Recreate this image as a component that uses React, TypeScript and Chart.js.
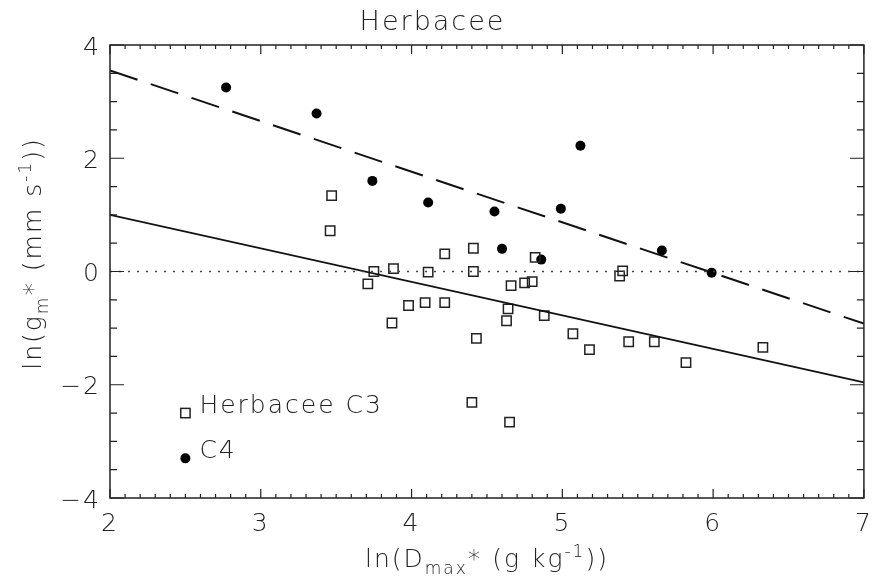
import React, { useEffect, useRef } from 'react';
import { Chart, registerables } from 'chart.js';

Chart.register(...registerables);

// ---- data ----
const chartTitle = 'Herbacee';
const c3Label = 'Herbacee C3';
const c4Label = 'C4';

const c3X = [3.47, 3.46, 3.75, 3.71, 3.88, 4.11, 4.22, 4.41, 4.41, 4.66, 4.75, 4.80, 4.82, 3.98, 4.09, 4.22, 3.87, 4.43, 4.64, 4.63, 4.88, 5.07, 5.18, 4.40, 4.65, 5.40, 5.38, 5.44, 5.61, 5.82, 6.33];
const c3Y = [1.34, 0.72, 0.00, -0.22, 0.05, -0.01, 0.31, 0.41, 0.00, -0.25, -0.20, -0.18, 0.25, -0.60, -0.55, -0.55, -0.91, -1.18, -0.66, -0.87, -0.78, -1.10, -1.38, -2.31, -2.66, 0.01, -0.08, -1.24, -1.24, -1.61, -1.34];

const c4X = [2.77, 3.37, 3.74, 4.11, 4.55, 4.99, 4.60, 4.86, 5.12, 5.66, 5.99];
const c4Y = [3.25, 2.79, 1.60, 1.22, 1.06, 1.11, 0.40, 0.21, 2.22, 0.37, -0.02];

const fitX = [2, 7];
const c3FitY = [1.0, -1.96];
const c4FitY = [3.55, -0.92];
const zeroY = [0, 0];

const xRange = [2, 7];
const yRange = [-4, 4];
const xStep = 1;
const yStep = 2;
const xMinor = 0.1;
const yMinor = 0.5;

type Part = { t: string; s?: 'sub' | 'sup' };
const xTitleParts: Part[] = [{ t: 'ln(D' }, { t: 'max', s: 'sub' }, { t: '* (g kg' }, { t: '-1', s: 'sup' }, { t: '))' }];
const yTitleParts: Part[] = [{ t: 'ln(g' }, { t: 'm', s: 'sub' }, { t: '* (mm s' }, { t: '-1', s: 'sup' }, { t: '))' }];

// ---- styling ----
const FAMILY = '"DejaVu Sans", sans-serif';
const WEIGHT = '200';
const INK = '#222';
const FS = 25;
const SPACING = '2px';

const pts = (xs: number[], ys: number[]) => xs.map((x, i) => ({ x, y: ys[i] }));

function partFont(p: Part, size: number) {
  const s = p.s ? size * 0.68 : size;
  return `${WEIGHT} ${s}px ${FAMILY}`;
}
function richWidth(ctx: CanvasRenderingContext2D, parts: Part[], size: number) {
  let w = 0;
  for (const p of parts) {
    ctx.font = partFont(p, size);
    w += ctx.measureText(p.t).width;
  }
  return w;
}
function drawRich(ctx: CanvasRenderingContext2D, parts: Part[], size: number, x0: number, base: number) {
  let x = x0;
  for (const p of parts) {
    ctx.font = partFont(p, size);
    const dy = p.s === 'sub' ? size * 0.28 : p.s === 'sup' ? -size * 0.42 : 0;
    ctx.fillText(p.t, x, base + dy);
    x += ctx.measureText(p.t).width;
  }
}

const idlPlugin = {
  id: 'idlFrame',
  beforeUpdate(chart: any) {
    (chart.ctx as any).letterSpacing = SPACING;
  },
  afterDatasetsDraw(chart: any) {
    const { ctx, chartArea: a, scales } = chart;
    const xs = scales.x;
    const ys = scales.y;
    ctx.save();
    (ctx as any).letterSpacing = SPACING;
    // frame
    ctx.strokeStyle = INK;
    ctx.lineWidth = 1.5;
    ctx.strokeRect(a.left, a.top, a.right - a.left, a.bottom - a.top);
    // ticks (inside, on all four sides)
    ctx.lineWidth = 1.2;
    ctx.beginPath();
    const nx = Math.round((xs.max - xs.min) / xMinor);
    const perX = Math.round(xStep / xMinor);
    for (let i = 0; i <= nx; i++) {
      const px = xs.getPixelForValue(xs.min + i * xMinor);
      const len = i % perX === 0 ? 9 : 4;
      ctx.moveTo(px, a.bottom);
      ctx.lineTo(px, a.bottom - len);
      ctx.moveTo(px, a.top);
      ctx.lineTo(px, a.top + len);
    }
    const ny = Math.round((ys.max - ys.min) / yMinor);
    const perY = Math.round(yStep / yMinor);
    for (let i = 0; i <= ny; i++) {
      const py = ys.getPixelForValue(ys.min + i * yMinor);
      const len = i % perY === 0 ? 14 : 7;
      ctx.moveTo(a.left, py);
      ctx.lineTo(a.left + len, py);
      ctx.moveTo(a.right, py);
      ctx.lineTo(a.right - len, py);
    }
    ctx.stroke();

    // legend (anchored in data coordinates, as in the original)
    ctx.fillStyle = INK;
    ctx.textBaseline = 'alphabetic';
    ctx.textAlign = 'left';
    const entries = chart.data.datasets.filter((d: any) => d.inLegend);
    const anchorsY = [-2.5, -3.3];
    entries.forEach((d: any, i: number) => {
      const sx = xs.getPixelForValue(2.5);
      const sy = ys.getPixelForValue(anchorsY[i]);
      ctx.save();
      if (d.pointStyle === 'rect') {
        const h = d.pointRadius * Math.SQRT1_2;
        ctx.strokeStyle = d.pointBorderColor;
        ctx.lineWidth = d.pointBorderWidth;
        ctx.strokeRect(sx - h, sy - h, 2 * h, 2 * h);
      } else {
        ctx.fillStyle = d.pointBackgroundColor;
        ctx.beginPath();
        ctx.arc(sx, sy, d.pointRadius, 0, Math.PI * 2);
        ctx.fill();
      }
      ctx.restore();
      ctx.font = `${WEIGHT} ${FS}px ${FAMILY}`;
      ctx.fillText(d.label, sx + 14, sy);
    });

    // axis titles
    ctx.fillStyle = INK;
    const wx = richWidth(ctx, xTitleParts, FS);
    drawRich(ctx, xTitleParts, FS, (a.left + a.right) / 2 - wx / 2, 567);
    const wy = richWidth(ctx, yTitleParts, FS);
    ctx.save();
    ctx.translate(41, (a.top + a.bottom) / 2 - 18);
    ctx.rotate(-Math.PI / 2);
    drawRich(ctx, yTitleParts, FS, -wy / 2, 0);
    ctx.restore();
    ctx.restore();
  },
};

export default function App() {
  const ref = useRef<HTMLCanvasElement>(null);
  useEffect(() => {
    const tickFont = { family: FAMILY, size: FS, weight: WEIGHT as any };
    const chart = new Chart(ref.current as HTMLCanvasElement, {
      type: 'scatter',
      data: {
        datasets: [
          {
            label: 'zero',
            data: pts(fitX, zeroY),
            showLine: true,
            borderColor: '#444',
            borderWidth: 1.4,
            borderDash: [2, 7],
            pointRadius: 0,
          },
          {
            label: 'fit C3',
            data: pts(fitX, c3FitY),
            showLine: true,
            borderColor: '#111',
            borderWidth: 1.8,
            pointRadius: 0,
          },
          {
            label: 'fit C4',
            data: pts(fitX, c4FitY),
            showLine: true,
            borderColor: '#111',
            borderWidth: 2,
            borderDash: [29, 14],
            pointRadius: 0,
          },
          {
            label: c3Label,
            data: pts(c3X, c3Y),
            inLegend: true,
            pointStyle: 'rect',
            pointRadius: 6.6,
            pointBorderWidth: 1.5,
            pointBorderColor: '#222',
            pointBackgroundColor: 'rgba(0,0,0,0)',
          } as any,
          {
            label: c4Label,
            data: pts(c4X, c4Y),
            inLegend: true,
            pointStyle: 'circle',
            pointRadius: 5,
            pointBorderWidth: 0,
            pointBorderColor: '#000',
            pointBackgroundColor: '#000',
          } as any,
        ],
      },
      options: {
        animation: false,
        responsive: false,
        devicePixelRatio: 1,
        layout: { padding: { left: 0, right: 7, top: 0, bottom: 0 } },
        plugins: {
          legend: { display: false },
          tooltip: { enabled: false },
          title: {
            display: true,
            text: chartTitle,
            color: INK,
            font: { family: FAMILY, size: 27, weight: WEIGHT as any, lineHeight: 1.2 },
            padding: { top: 7, bottom: 5.6 },
          },
        },
        scales: {
          x: {
            type: 'linear',
            min: xRange[0],
            max: xRange[1],
            grid: { display: false, drawTicks: false },
            border: { display: false },
            ticks: { stepSize: xStep, color: INK, font: tickFont, padding: 11, maxRotation: 0 },
            afterFit: (s: any) => {
              s.height = 80;
              s.paddingLeft = 0;
              s.paddingRight = 0;
            },
          },
          y: {
            type: 'linear',
            min: yRange[0],
            max: yRange[1],
            grid: { display: false, drawTicks: false },
            border: { display: false },
            ticks: {
              stepSize: yStep,
              color: INK,
              font: tickFont,
              padding: 9,
              labelOffset: 3,
              callback: (v: any) => (Number(v) < 0 ? '\u2212' + Math.abs(Number(v)) : String(v)),
            },
            afterFit: (s: any) => {
              s.width = 110;
              s.paddingTop = 0;
              s.paddingBottom = 0;
            },
          },
        },
      },
      plugins: [idlPlugin],
    });
    return () => chart.destroy();
  }, []);
  return (
    <div style={{ position: 'fixed', left: 0, top: 0, width: 872, height: 578, background: '#fff' }}>
      <canvas ref={ref} width={872} height={578} style={{ display: 'block', width: 872, height: 578 }} />
    </div>
  );
}
